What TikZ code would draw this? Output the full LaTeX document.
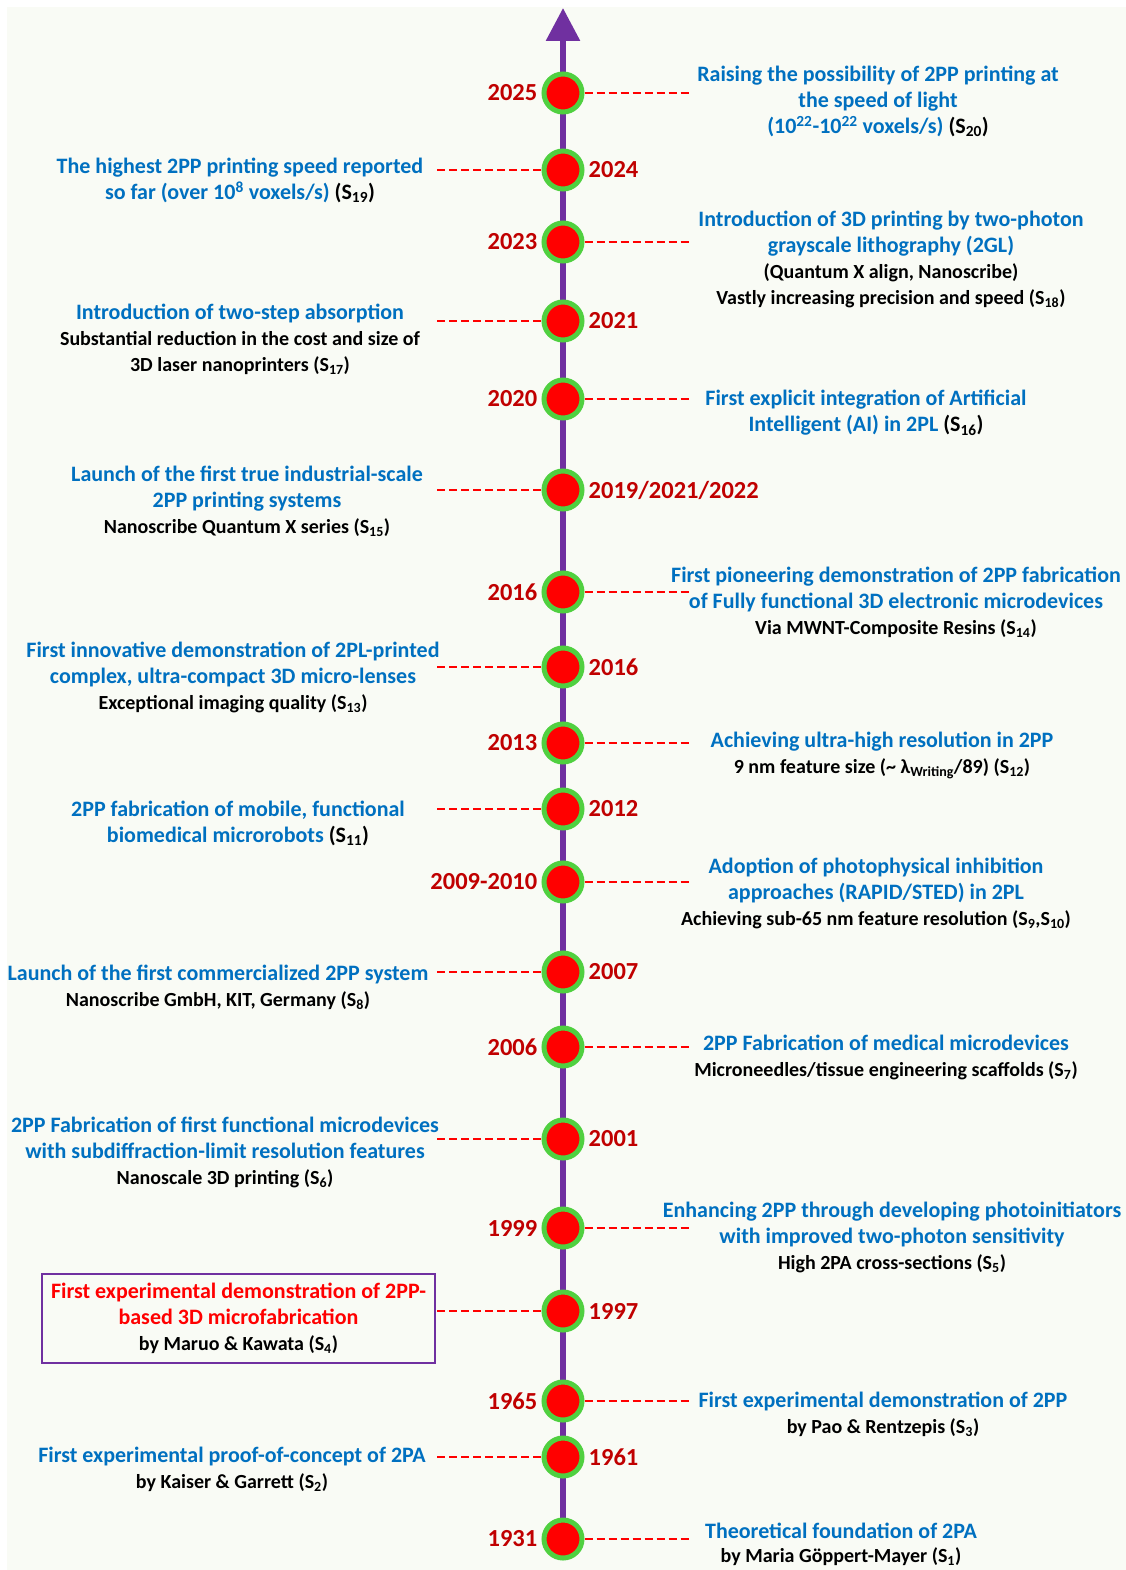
\documentclass[tikz,border=0pt]{standalone}
\usepackage{fontspec}
\setmainfont{Carlito}
\usetikzlibrary{positioning,arrows.meta}

\definecolor{axispurple}{HTML}{7030A0}
\definecolor{ringgreen}{HTML}{50D040}
\definecolor{yearred}{HTML}{C00000}
\definecolor{noteblue}{HTML}{0070C0}
\definecolor{paper}{HTML}{F9FBF5}

\newcommand{\srcref}[1]{{\color{black}(S\textsubscript{#1})}}
\newcommand{\blk}[1]{{\color{black}\fontsize{20}{25}\selectfont #1}}

\begin{document}
\begin{tikzpicture}[x=1pt,y=-1pt]
        \tikzstyle{every node} = [font=\bfseries]
        \tikzstyle{dot} = [circle, fill=red, draw=ringgreen, line width=5pt, minimum size=38pt, inner sep=0pt]
        \tikzstyle{yr} = [text=yearred, inner sep=0pt, font=\fontsize{24.5}{28}\selectfont\bfseries]
        \tikzstyle{note} = [text=noteblue, align=center, inner sep=0pt, anchor=north, font=\fontsize{22}{26}\selectfont\bfseries]
        \tikzstyle{lead} = [draw=red, line width=2.5pt, dash pattern=on 8pt off 4pt]

        \useasboundingbox (0,0) rectangle (1126,1570);
        \fill[white] (0,0) rectangle (1126,1570);
        \fill[paper] (7,7) rectangle (1126,1570);

        % time axis
        \coordinate (top) at (563,8);
        \coordinate (bot) at (563,1539);
        \draw[axispurple, line width=6pt, -{Triangle[width=33pt,length=33pt]}] (bot) -- (top);

        % events, newest first
        \node[dot] (d2025) at (563,93) {};
        \node[yr, left=4pt of d2025] (y2025) {2025};
        \node[note] (n2025) at (878,66) {Raising the possibility of 2PP printing at\\the speed of light\\(10\textsuperscript{22}-10\textsuperscript{22} voxels/s) \srcref{20}};
        \coordinate (c2025) at (690,93);
        \draw[lead] (d2025) -- (c2025);

        \node[dot] (d2024) at (563,170) {};
        \node[yr, right=4pt of d2024] (y2024) {2024};
        \node[note] (n2024) at (240,158) {The highest 2PP printing speed reported\\so far (over 10\textsuperscript{8} voxels/s) \srcref{19}};
        \coordinate (c2024) at (437,170);
        \draw[lead] (c2024) -- (d2024);

        \node[dot] (d2023) at (563,242) {};
        \node[yr, left=4pt of d2023] (y2023) {2023};
        \node[note] (n2023) at (891,211) {Introduction of 3D printing by two-photon\\grayscale lithography (2GL)\\\blk{(Quantum X align, Nanoscribe)}\\\blk{Vastly increasing precision and speed \srcref{18}}};
        \coordinate (c2023) at (690,242);
        \draw[lead] (d2023) -- (c2023);

        \node[dot] (d2021) at (563,321) {};
        \node[yr, right=4pt of d2021] (y2021) {2021};
        \node[note] (n2021) at (240,304) {Introduction of two-step absorption\\\blk{Substantial reduction in the cost and size of}\\\blk{3D laser nanoprinters \srcref{17}}};
        \coordinate (c2021) at (437,321);
        \draw[lead] (c2021) -- (d2021);

        \node[dot] (d2020) at (563,399) {};
        \node[yr, left=4pt of d2020] (y2020) {2020};
        \node[note] (n2020) at (866,390) {First explicit integration of Artificial\\Intelligent (AI) in 2PL \srcref{16}};
        \coordinate (c2020) at (690,399);
        \draw[lead] (d2020) -- (c2020);

        \node[dot] (d2019) at (563,490) {};
        \node[yr, right=4pt of d2019] (y2019) {2019/2021/2022};
        \node[note] (n2019) at (247,466) {Launch of the first true industrial-scale\\2PP printing systems\\\blk{Nanoscribe Quantum X series \srcref{15}}};
        \coordinate (c2019) at (437,490);
        \draw[lead] (c2019) -- (d2019);

        \node[dot] (d2016a) at (563,592) {};
        \node[yr, left=4pt of d2016a] (y2016a) {2016};
        \node[note] (n2016a) at (896,567) {First pioneering demonstration of 2PP fabrication\\of Fully functional 3D electronic microdevices\\\blk{Via MWNT-Composite Resins \srcref{14}}};
        \coordinate (c2016a) at (690,592);
        \draw[lead] (d2016a) -- (c2016a);

        \node[dot] (d2016b) at (563,667) {};
        \node[yr, right=4pt of d2016b] (y2016b) {2016};
        \node[note] (n2016b) at (233,642) {First innovative demonstration of 2PL-printed\\complex, ultra-compact 3D micro-lenses\\\blk{Exceptional imaging quality \srcref{13}}};
        \coordinate (c2016b) at (437,667);
        \draw[lead] (c2016b) -- (d2016b);

        \node[dot] (d2013) at (563,743) {};
        \node[yr, left=4pt of d2013] (y2013) {2013};
        \node[note] (n2013) at (882,732) {Achieving ultra-high resolution in 2PP\\\blk{9 nm feature size (\textasciitilde{} λ\textsubscript{Writing}/89) \srcref{12}}};
        \coordinate (c2013) at (690,743);
        \draw[lead] (d2013) -- (c2013);

        \node[dot] (d2012) at (563,809) {};
        \node[yr, right=4pt of d2012] (y2012) {2012};
        \node[note] (n2012) at (238,801) {2PP fabrication of mobile, functional\\biomedical microrobots \srcref{11}};
        \coordinate (c2012) at (437,809);
        \draw[lead] (c2012) -- (d2012);

        \node[dot] (d2009) at (563,882) {};
        \node[yr, left=4pt of d2009] (y2009) {2009-2010};
        \node[note] (n2009) at (876,858) {Adoption of photophysical inhibition\\approaches (RAPID/STED) in 2PL\\\blk{Achieving sub-65 nm feature resolution (S\textsubscript{9},S\textsubscript{10})}};
        \coordinate (c2009) at (690,882);
        \draw[lead] (d2009) -- (c2009);

        \node[dot] (d2007) at (563,972) {};
        \node[yr, right=4pt of d2007] (y2007) {2007};
        \node[note] (n2007) at (218,965) {Launch of the first commercialized 2PP system\\\blk{Nanoscribe GmbH, KIT, Germany \srcref{8}}};
        \coordinate (c2007) at (437,972);
        \draw[lead] (c2007) -- (d2007);

        \node[dot] (d2006) at (563,1047) {};
        \node[yr, left=4pt of d2006] (y2006) {2006};
        \node[note] (n2006) at (886,1035) {2PP Fabrication of medical microdevices\\\blk{Microneedles/tissue engineering scaffolds \srcref{7}}};
        \coordinate (c2006) at (690,1047);
        \draw[lead] (d2006) -- (c2006);

        \node[dot] (d2001) at (563,1139) {};
        \node[yr, right=4pt of d2001] (y2001) {2001};
        \node[note] (n2001) at (225,1117) {2PP Fabrication of first functional microdevices\\with subdiffraction-limit resolution features\\\blk{Nanoscale 3D printing \srcref{6}}};
        \coordinate (c2001) at (437,1139);
        \draw[lead] (c2001) -- (d2001);

        \node[dot] (d1999) at (563,1228) {};
        \node[yr, left=4pt of d1999] (y1999) {1999};
        \node[note] (n1999) at (892,1202) {Enhancing 2PP through developing photoinitiators\\with improved two-photon sensitivity\\\blk{High 2PA cross-sections \srcref{5}}};
        \coordinate (c1999) at (690,1228);
        \draw[lead] (d1999) -- (c1999);

        \node[dot] (d1997) at (563,1311) {};
        \node[yr, right=4pt of d1997] (y1997) {1997};
        \node[note, anchor=center, text=red, draw=axispurple, line width=2pt, minimum width=393pt, minimum height=89pt] (n1997) at (238.5,1318) {First experimental demonstration of 2PP-\\based 3D microfabrication\\\blk{by Maruo \& Kawata \srcref{4}}};
        \coordinate (c1997) at (437,1311);
        \draw[lead] (c1997) -- (d1997);

        \node[dot] (d1965) at (563,1401) {};
        \node[yr, left=4pt of d1965] (y1965) {1965};
        \node[note] (n1965) at (883,1392) {First experimental demonstration of 2PP\\\blk{by Pao \& Rentzepis \srcref{3}}};
        \coordinate (c1965) at (690,1401);
        \draw[lead] (d1965) -- (c1965);

        \node[dot] (d1961) at (563,1457) {};
        \node[yr, right=4pt of d1961] (y1961) {1961};
        \node[note] (n1961) at (232,1447) {First experimental proof-of-concept of 2PA\\\blk{by Kaiser \& Garrett \srcref{2}}};
        \coordinate (c1961) at (437,1457);
        \draw[lead] (c1961) -- (d1961);

        \node[dot] (d1931) at (563,1539) {};
        \node[yr, left=4pt of d1931] (y1931) {1931};
        \node[note, font=\fontsize{22}{24}\selectfont\bfseries] (n1931) at (841,1523) {Theoretical foundation of 2PA\\\blk{by Maria Göppert-Mayer \srcref{1}}};
        \coordinate (c1931) at (690,1539);
        \draw[lead] (d1931) -- (c1931);
\end{tikzpicture}
\end{document}
